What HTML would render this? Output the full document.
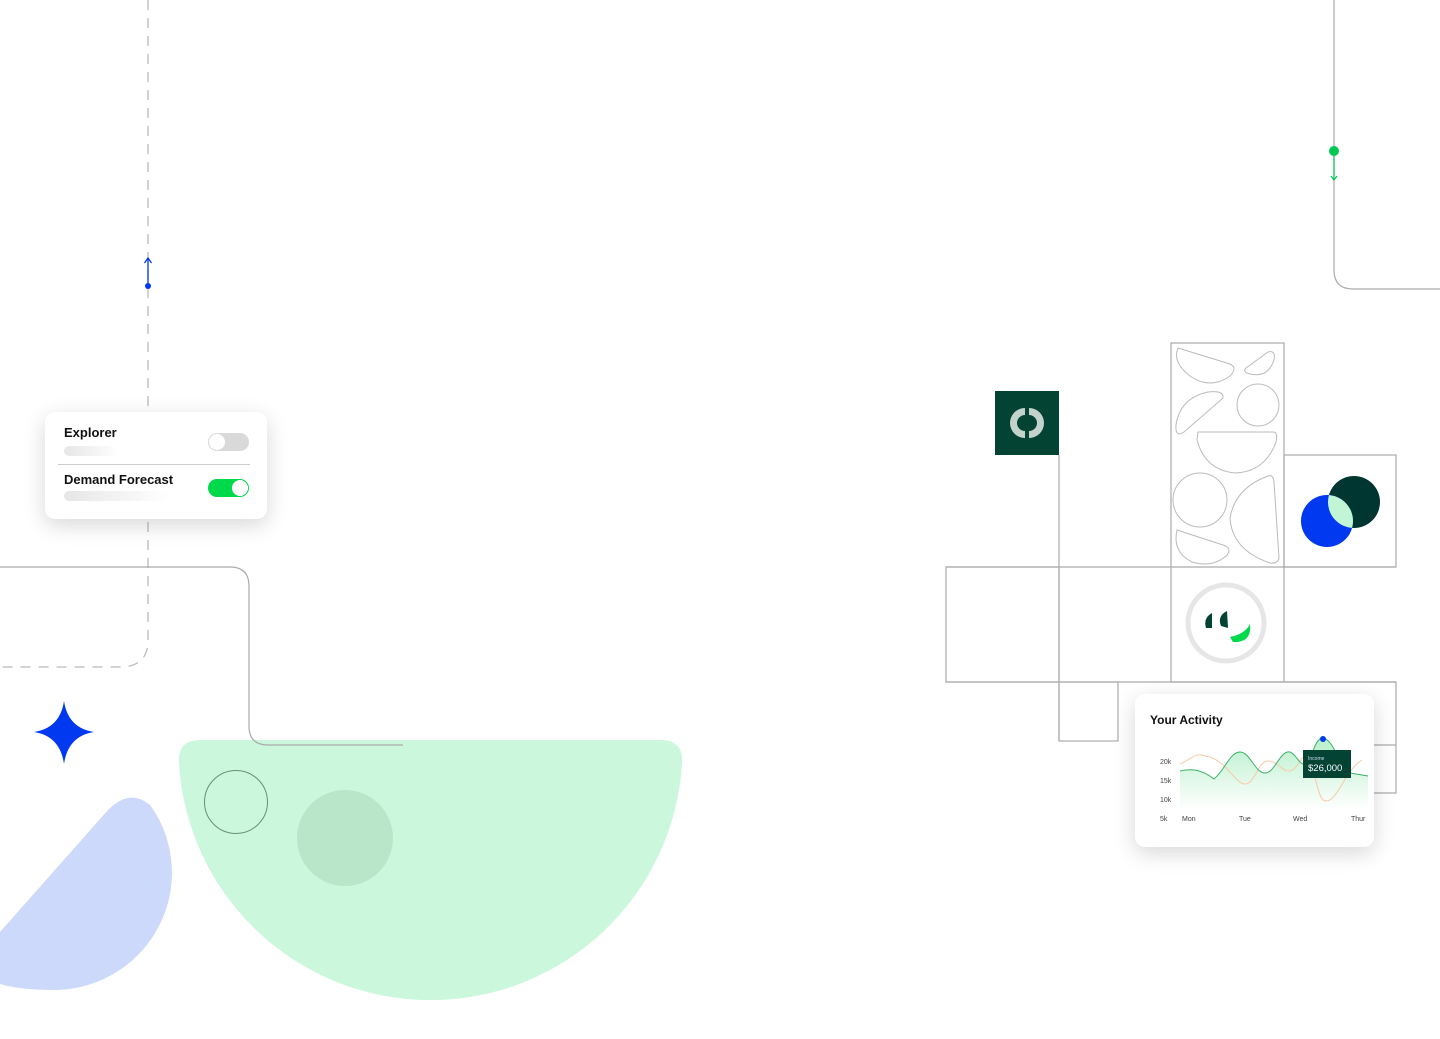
<!DOCTYPE html>
<html><head><meta charset="utf-8"><style>
body{margin:0;width:1440px;height:1039px;overflow:hidden;background:#fff;font-family:"Liberation Sans",sans-serif;position:relative}
svg{position:absolute;left:0;top:0}
.card{position:absolute;background:#fff;border-radius:10px;box-shadow:0 6px 22px rgba(0,0,0,.16)}
.t{position:absolute;font-size:13px;color:#111;font-weight:bold}
</style></head><body>
<svg width="1440" height="1039" viewBox="0 0 1440 1039">
<defs><clipPath id="c2"><circle cx="1327" cy="521" r="26"/></clipPath></defs>
<path d="M200 740 L660 740 Q684 740 682 764 A252 252 0 0 1 179 764 Q177 740 200 740 Z" fill="#cbf7dc"/>
<circle cx="236" cy="802" r="31.5" fill="none" stroke="#6a8f78" stroke-width="1"/>
<circle cx="345" cy="838" r="48" fill="#b9e6c9"/>
<path d="M0 932 L108 810 Q130 788 150 805 Q172 835 172 875 A118 118 0 0 1 55 990 Q20 990 0 984 Z" fill="#cdd9fa"/>
<path d="M64 701 Q68 728 94 732 Q68 736 64 764 Q60 736 34 732 Q60 728 64 701 Z" fill="#0039f0"/>
<path d="M148 0 L148 640 Q148 667 120 667 L0 667" fill="none" stroke="#bbb" stroke-width="1.3" stroke-dasharray="10 8"/>
<line x1="148" y1="258" x2="148" y2="286" stroke="#0039f0" stroke-width="1.3"/>
<path d="M144.5 263 L148 258 L151.5 263" fill="none" stroke="#0039f0" stroke-width="1.3"/>
<circle cx="148" cy="286" r="3" fill="#0039f0"/>
<path d="M0 567 L230 567 Q249 567 249 586 L249 726 Q249 745 268 745 L403 745" fill="none" stroke="#aaa" stroke-width="1.2"/>
<path d="M1334 0 L1334 270 Q1334 289 1353 289 L1440 289" fill="none" stroke="#aaa" stroke-width="1.2"/>
<line x1="1334" y1="151" x2="1334" y2="180" stroke="#00c853" stroke-width="1.2"/>
<path d="M1331 176 L1334 180 L1337 176" fill="none" stroke="#00c853" stroke-width="1.2"/>
<circle cx="1334" cy="151" r="5" fill="#00c853"/>
<g fill="none" stroke="#aaa" stroke-width="1.2">
<rect x="1171" y="343" width="113" height="339"/>
<rect x="1284" y="455" width="112" height="112"/>
<line x1="946" y1="567" x2="1396" y2="567"/>
<rect x="946" y="567" width="113" height="115"/>
<line x1="1059" y1="455" x2="1059" y2="741"/>
<line x1="946" y1="682" x2="1396" y2="682"/>
<rect x="1059" y="682" width="59" height="59"/>
<path d="M1284 682 L1396 682 L1396 793 L1370 793 M1374 745 L1396 745"/>
</g>
<g fill="none" stroke="#bbb" stroke-width="1">
<path d="M1178 348 L1230 364 Q1238 368 1230 376 Q1210 390 1190 376 Q1172 362 1178 348Z"/>
<path d="M1246 368 L1268 352 Q1276 350 1274 360 Q1268 378 1250 374 Q1242 372 1246 368Z"/>
<circle cx="1258" cy="405" r="21"/>
<path d="M1176 425 Q1180 398 1208 392 Q1224 390 1223 398 L1184 432 Q1175 438 1176 425Z"/>
<path d="M1198 432 L1274 432 Q1278 433 1276 442 Q1265 472 1235 473 Q1205 470 1197 440Z"/>
<circle cx="1200" cy="500" r="27"/>
<path d="M1268 476 Q1273 474 1274 482 L1279 558 Q1278 564 1270 563 Q1232 550 1230 518 Q1235 488 1268 476Z"/>
<path d="M1177 530 L1226 546 Q1232 550 1226 556 Q1212 568 1192 562 Q1172 552 1177 530Z"/>
</g>
<rect x="995" y="391" width="64" height="64" fill="#024334"/>
<path d="M1025 408 A15 15 0 0 0 1025 438 L1025 431 A8 8 0 0 1 1025 415 Z M1029 408 A15 15 0 0 1 1029 438 L1029 431 A8 8 0 0 0 1029 415 Z" fill="#c3d3cc"/>
<circle cx="1354" cy="502" r="26" fill="#003632"/>
<circle cx="1327" cy="521" r="26" fill="#0039f0"/>
<circle cx="1354" cy="502" r="26" fill="#c2f4d6" clip-path="url(#c2)"/>
<circle cx="1226" cy="623" r="38" fill="#fff" stroke="#e6e6e6" stroke-width="5"/>
<path d="M1212 613 Q1203 618 1206 628 L1212 628 Z M1227 611 Q1217 616 1221 626 L1228 628 Z" fill="#024334"/>
<path d="M1230 637 Q1245 634 1250 624 Q1252 643 1233 642 Z" fill="#00d94a"/>
</svg>

<div class="card" style="left:45px;top:412px;width:222px;height:107px">
<div class="t" style="left:19px;top:13px">Explorer</div>
<div style="position:absolute;left:19px;top:34px;width:55px;height:10px;border-radius:5px;background:linear-gradient(90deg,#e6e6e6,#fff)"></div>
<div style="position:absolute;left:163px;top:21px;width:41px;height:18px;border-radius:9px;background:#d9d9d9"><div style="position:absolute;left:1px;top:1px;width:16px;height:16px;border-radius:50%;background:#fff"></div></div>
<div style="position:absolute;left:13px;top:52px;width:192px;height:1px;background:#ccc"></div>
<div class="t" style="left:19px;top:60px">Demand Forecast</div>
<div style="position:absolute;left:19px;top:79px;width:105px;height:10px;border-radius:5px;background:linear-gradient(90deg,#e6e6e6,#fff)"></div>
<div style="position:absolute;left:163px;top:67px;width:41px;height:18px;border-radius:9px;background:#00d94a"><div style="position:absolute;left:24px;top:1px;width:16px;height:16px;border-radius:50%;background:#fff"></div></div>
</div>

<div class="card" style="left:1135px;top:694px;width:239px;height:153px">
<div class="t" style="left:15px;top:19px;font-size:12px">Your Activity</div>
<svg width="239" height="153" viewBox="1135 694 239 153">
<defs><linearGradient id="g" x1="0" y1="0" x2="0" y2="1"><stop offset="0" stop-color="#b8efcb"/><stop offset="1" stop-color="#fff"/></linearGradient></defs>
<path d="M1180 771 C1190 769 1200 768 1214 779 C1225 770 1230 752 1240 752 C1250 752 1255 773 1265 773 C1275 773 1280 750 1290 752 C1298 755 1300 770 1310 762 C1315 740 1320 738 1323 738 C1335 740 1340 770 1350 773 L1368 776 L1368 810 L1180 810 Z" fill="url(#g)"/>
<path d="M1180 764 C1190 760 1195 752 1205 756 C1225 758 1235 784 1245 784 C1255 784 1258 761 1268 761 C1278 761 1282 772 1290 771 C1300 768 1302 750 1308 758 C1318 780 1318 801 1326 801 C1338 801 1345 770 1362 760" fill="none" stroke="#fac8a6" stroke-width="1"/>
<path d="M1180 771 C1190 769 1200 768 1214 779 C1225 770 1230 752 1240 752 C1250 752 1255 773 1265 773 C1275 773 1280 750 1290 752 C1298 755 1300 770 1310 762 C1315 740 1320 738 1323 738 C1335 740 1340 770 1350 773 L1368 776" fill="none" stroke="#3bb266" stroke-width="1"/>
<circle cx="1323" cy="739" r="3" fill="#0039f0"/>
<rect x="1303" y="750" width="48" height="28" fill="#024334"/>
<text x="1308" y="760" font-size="5" fill="#cde">Income</text>
<text x="1308" y="771" font-size="9.5" fill="#fff">$26,000</text>
<g font-size="7" fill="#444">
<text x="1160" y="764">20k</text><text x="1160" y="783">15k</text><text x="1160" y="802">10k</text><text x="1160" y="821">5k</text>
<text x="1182" y="821">Mon</text><text x="1239" y="821">Tue</text><text x="1293" y="821">Wed</text><text x="1351" y="821">Thur</text>
</g>
</svg>
</div>
</body></html>
